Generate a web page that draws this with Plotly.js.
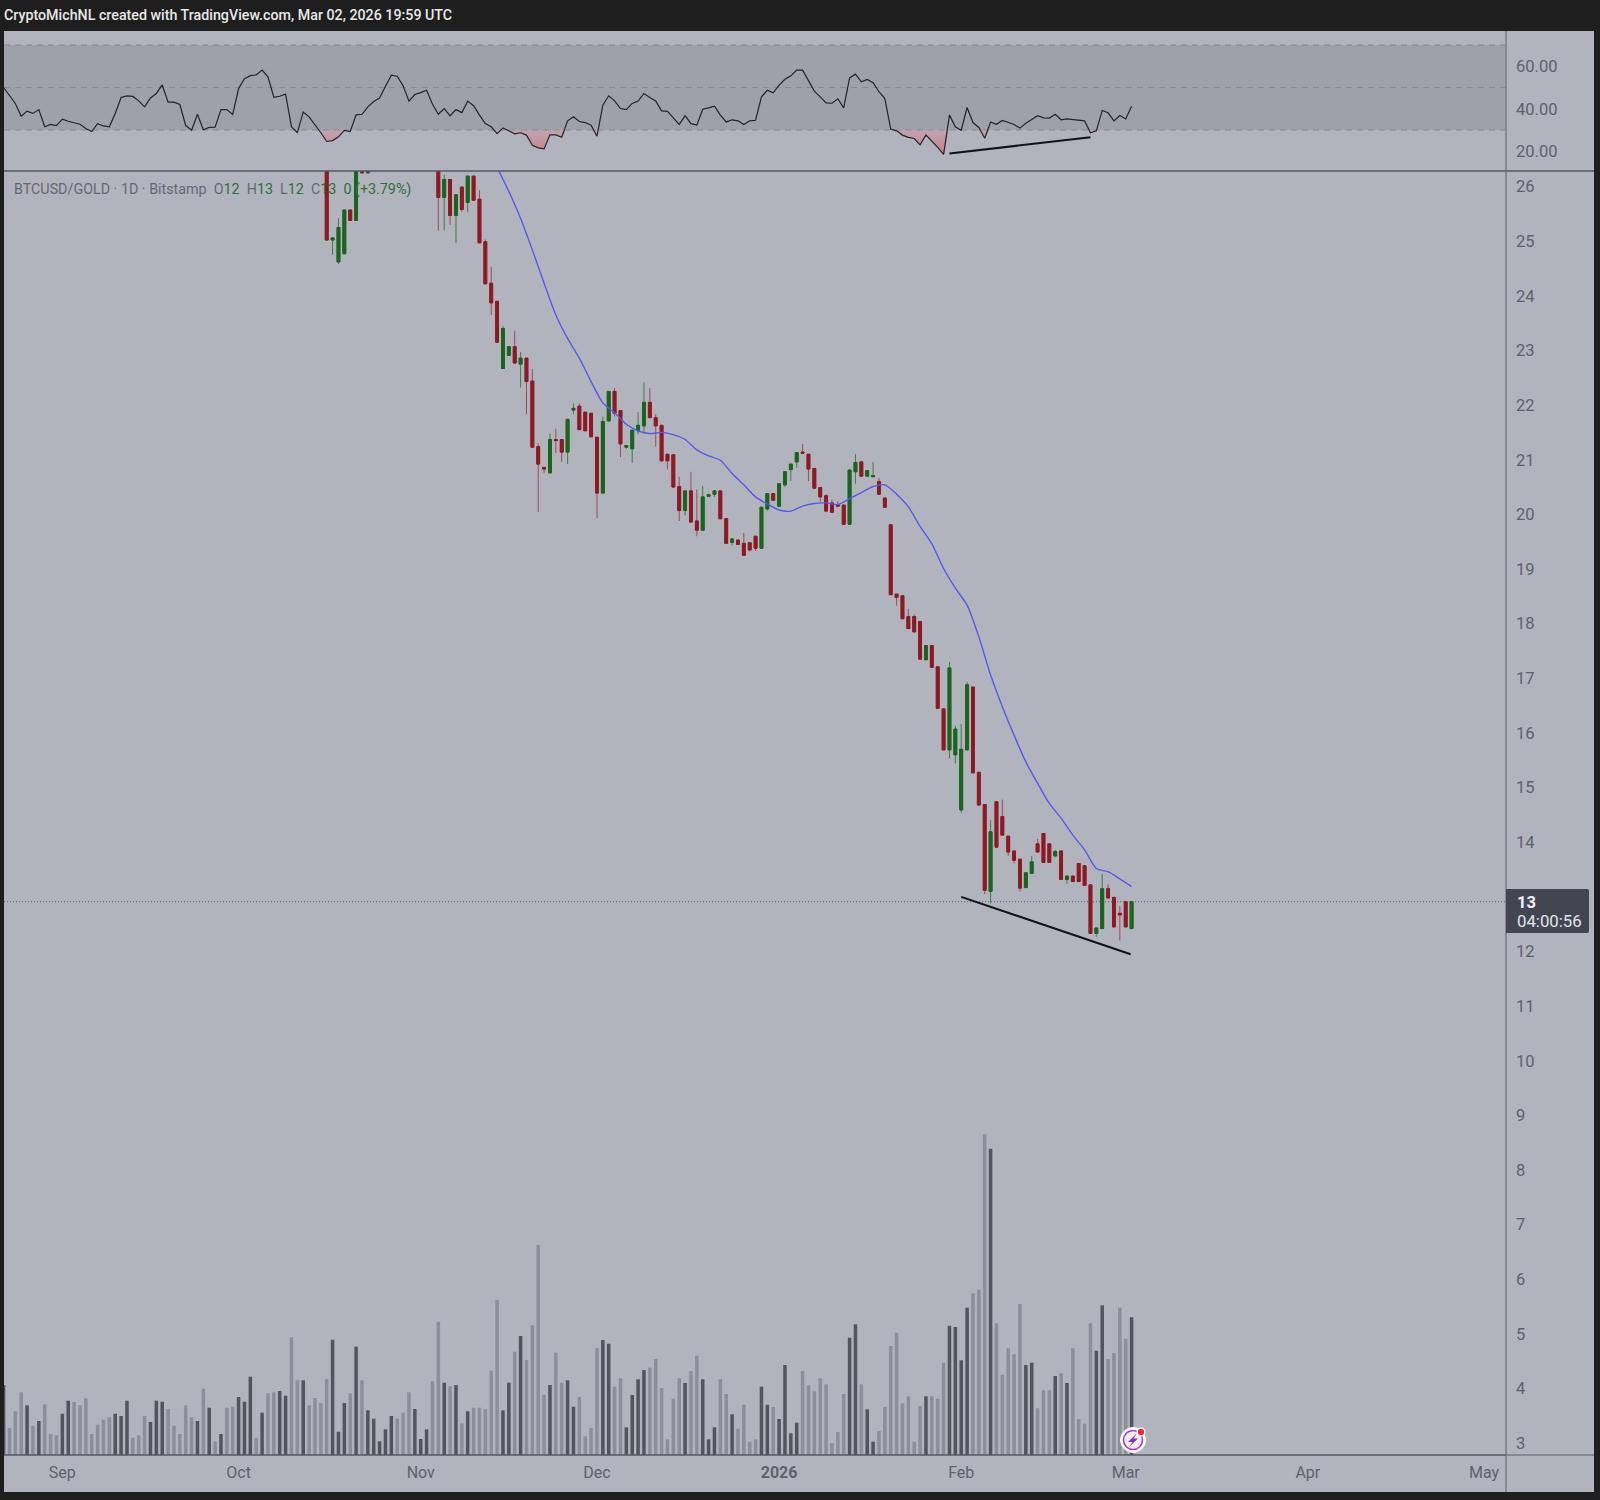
<!DOCTYPE html>
<html><head><meta charset="utf-8">
<script src="https://cdn.plot.ly/plotly-3.0.1.min.js"></script>
<style>html,body{margin:0;padding:0;background:#1e1e1e}#c{width:1600px;height:1500px}</style>
</head><body><div id="c"></div>
<script>
// ---- Data ----
const volumeStart = '2025-08-22';
const volumeValues = [70,27,43.7,62.7,49.7,29.3,34,50.7,21,19.7,41.3,54.3,53,49.7,56.7,21,30.3,35.3,37.7,41.3,39,54.3,17.3,19.7,39,33,54.3,53.3,46,29.3,21,49.7,37.7,34,66.3,47.3,13.7,21,47.3,48.3,58,53.3,78.3,17.3,42.3,61.7,62.7,64,59.3,117.7,74.7,74.7,49.7,57,52,76,115.3,23.3,52,61.7,108.3,74.7,44.7,36.3,13.7,25.7,39,36.3,42.3,62.7,46,16,25.7,73.7,133.3,72.3,68.7,70,31.7,43.7,47.3,47.3,46,84.3,155,44.7,72.3,103.3,119,95,129.7,210,60.3,70,102.3,72.3,74.7,48.3,58,18.7,27,107,
115,111.3,68.3,76.7,27.7,60,75.7,85,87.3,96,67,15.7,56.3,76.7,72,84,99.3,75.7,15.7,27.7,75.7,61,40.7,26.3,50.3,13.3,15.7,68.3,50.3,48,36,90,21.7,32.3,84,69.7,63.7,76.7,70.7,12,23,61,117.3,130.7,70.7,45.7,13.3,24,48,109,122.3,51.7,58.7,13.3,49,58.7,58.7,56.3,92.3,129.3,128,94.7,147.3,161.7,165.3,320.7,306.3,131.7,80.3,106.7,100.7,151,90,92.3,46.7,64.7,64.7,79,81.7,72,106.7,36,31.3,131.7,104.3,149.7,96,102,147.3,116.3,137.7];
const volumeDark = [1,0,0,0,1,0,1,0,0,0,1,1,0,0,0,0,0,0,0,1,1,1,0,0,0,1,1,1,0,0,0,0,0,1,0,1,0,1,0,0,1,1,1,0,1,0,0,1,1,0,0,1,0,0,0,0,1,1,1,0,1,0,1,1,1,1,1,0,0,0,1,1,1,0,0,1,0,1,0,1,0,0,0,0,0,1,1,0,1,0,0,0,0,1,0,0,1,1,0,0,0,0,
1,1,0,0,1,1,1,1,0,0,0,0,0,0,1,0,0,1,1,1,0,0,1,0,0,0,0,1,1,0,1,1,1,1,0,0,0,0,0,0,0,0,1,1,0,1,1,0,0,0,0,0,0,0,0,1,0,0,0,1,1,1,1,0,0,0,1,0,0,0,0,0,1,1,0,0,0,1,0,1,0,0,0,0,1,1,0,0,0,0,1];

const candleStart = '2025-10-16';
const N = null;
const candleOpen = [26.95,25.02,24.62,24.77,25.57,25.38,26.80,26.25,N,N,N,N,N,N,N,N,N,N,N,
26.60,25.80,26.13,25.47,25.99,25.71,26.19,25.77,24.99,24.23,23.90,22.67,22.91,23.07,22.75,22.86,22.44,21.24,20.86,20.76,21.37,21.37,21.14,21.91,21.98,21.87,21.85,21.41,20.39,21.71,22.25,21.90,21.23,21.20,21.53,21.62,22.05,21.77,21.63,21.10,21.09,20.51,20.07,20.43,19.88,19.71,20.33,20.37,20.43,19.92,19.49,19.53,19.47,19.48,19.60,19.38,20.10,20.38,20.15,20.54,20.82,20.96,21.14,21.10,20.84,20.49,20.34,20.21,20.18,20.17,19.82,20.78,20.96,20.70,20.69,20.60,20.30,19.81,18.54,18.51,18.13,18.13,18.04,17.34,17.60,17.21,16.44,15.69,15.60,14.59,15.69,16.84,15.28,14.69,13.10,14.74,14.47,14.11,13.84,13.69,13.17,13.43,13.97,14.16,13.97,13.75,13.84,13.32,13.38,13.61,13.57,13.22,12.33,12.42,13.15,12.99,12.70,12.91,12.42];
const candleHigh = [27.00,25.06,25.42,25.57,25.57,26.90,26.90,26.65,N,N,N,N,N,N,N,N,N,N,N,
26.70,26.22,26.13,25.85,25.99,26.19,26.19,25.93,25.03,24.53,23.90,23.45,23.07,23.36,22.97,22.86,22.66,21.30,20.86,21.48,21.57,21.37,21.74,22.03,22.03,21.87,21.85,21.41,21.79,22.25,22.31,21.90,21.26,21.54,21.87,22.42,22.31,21.83,21.63,21.10,21.09,20.69,20.43,20.78,20.46,20.52,20.38,20.43,20.43,19.92,19.55,19.53,19.66,19.48,19.60,20.13,20.38,20.38,20.56,20.78,20.92,21.13,21.29,21.10,20.84,20.49,20.37,20.27,20.24,20.17,20.83,21.10,20.98,20.80,20.96,20.67,20.30,19.81,18.54,18.51,18.27,18.17,18.04,17.60,17.60,17.21,16.44,17.30,16.13,16.16,16.93,16.84,15.28,14.69,14.41,14.74,14.78,14.11,13.84,13.69,13.44,13.75,14.06,14.16,13.97,13.86,13.84,13.38,13.38,13.61,13.57,13.22,12.43,13.42,13.23,12.99,12.83,12.91,12.91];
const candleLow = [25.02,24.75,24.58,24.77,25.38,25.38,26.25,26.25,N,N,N,N,N,N,N,N,N,N,N,
25.19,25.20,25.30,24.97,25.54,25.53,25.75,24.97,24.22,23.65,23.15,22.67,22.91,22.77,22.32,21.83,21.23,20.04,20.76,20.76,21.12,20.96,20.92,21.83,21.55,21.53,21.42,19.93,20.39,21.71,21.79,21.05,21.20,20.94,21.47,21.48,21.77,21.24,20.98,20.82,20.50,19.88,19.98,19.85,19.60,19.71,20.33,20.32,19.92,19.47,19.43,19.45,19.25,19.32,19.33,19.38,20.07,20.26,20.15,20.50,20.61,20.85,21.12,20.61,20.48,20.23,20.06,20.04,20.15,19.82,19.82,20.56,20.70,20.70,20.69,20.37,20.13,18.53,18.33,18.09,17.91,17.85,17.35,17.34,17.20,16.45,15.69,15.53,15.44,14.54,15.69,15.27,14.68,13.05,12.88,13.91,14.13,13.75,13.61,13.10,13.17,13.43,13.82,13.63,13.63,13.72,13.32,13.24,13.28,13.28,13.21,12.33,12.27,12.42,12.98,12.45,12.20,12.45,12.42];
const candleClose = [25.02,25.06,25.25,25.57,25.38,26.80,26.25,26.60,N,N,N,N,N,N,N,N,N,N,N,
25.80,26.13,25.47,25.85,25.58,26.19,25.75,24.97,24.22,23.87,23.15,23.40,23.07,22.77,22.86,22.43,21.23,20.92,20.83,21.37,21.35,21.14,21.74,21.94,21.55,21.53,21.42,20.39,21.70,22.25,21.85,21.29,21.26,21.54,21.63,22.05,21.77,21.62,20.98,20.98,20.50,20.07,20.43,19.86,19.71,20.32,20.36,20.43,19.92,19.47,19.55,19.45,19.25,19.35,19.38,20.13,20.38,20.26,20.56,20.78,20.92,21.13,21.12,20.83,20.48,20.32,20.06,20.04,20.15,19.82,20.81,20.95,20.70,20.80,20.71,20.37,20.13,18.53,18.48,18.09,17.91,17.85,17.35,17.60,17.20,16.45,15.69,17.19,16.07,15.70,16.88,15.27,14.68,13.12,14.19,13.91,14.13,13.82,13.67,13.16,13.44,13.64,13.82,13.63,13.63,13.83,13.32,13.38,13.28,13.28,13.21,12.33,12.43,13.15,12.98,12.45,12.67,12.45,12.91];

// moving average, read every second day from index 29 of the candle series
const maFirstIndex = 29;
const maValues = [26.35,25.91,25.42,24.84,24.23,23.65,23.22,22.86,22.43,22.04,21.86,21.65,21.53,21.48,21.50,21.46,21.37,21.18,21.07,20.99,20.75,20.54,20.32,20.19,20.08,20.06,20.15,20.20,20.21,20.18,20.29,20.40,20.51,20.54,20.37,20.14,19.78,19.46,19.01,18.65,18.34,17.76,17.06,16.48,15.96,15.47,15.08,14.71,14.44,14.13,13.86,13.52,13.46,13.33,13.19];

const rsiStart = '2025-08-22';
const rsiValues = [50.0,46.4,42.5,36.5,38.9,37.8,39.6,31.5,32.6,32.1,35.1,34.1,33.5,32.7,30.7,29.3,33.0,31.9,31.5,37.8,45.3,46.1,45.8,43.7,40.9,45.1,47.2,51.2,43.1,43.1,42.0,32.1,29.9,37.4,30.1,31.2,31.3,39.6,39.6,37.3,49.5,54.2,55.6,55.9,58.2,55.0,45.4,45.9,46.9,31.5,28.8,38.5,36.2,32.7,28.7,24.6,25.0,26.8,29.8,29.3,37.1,37.4,40.9,43.4,45.0,50.6,55.8,55.3,50.8,43.6,46.7,47.6,48.7,42.1,37.4,40.1,36.7,39.6,38.2,43.6,41.4,37.0,33.0,31.5,28.3,31.0,29.4,28.2,28.7,27.6,22.8,21.6,21.1,27.7,27.7,26.6,34.3,36.2,34.0,33.5,32.3,27.1,
41.7,46.1,43.7,40.1,39.6,42.5,43.6,47.2,45.3,43.7,39.0,38.8,35.7,32.6,36.8,33.0,32.3,39.8,40.4,41.2,37.0,33.8,34.8,34.3,32.6,34.3,34.6,45.6,48.7,47.5,51.1,53.9,55.5,58.2,58.2,53.4,48.3,45.6,42.8,42.6,44.7,40.4,54.5,56.3,52.7,53.8,52.3,48.0,44.8,30.4,29.6,27.6,26.5,26.0,23.0,27.6,24.9,21.8,18.5,37.0,31.5,29.9,40.6,33.5,31.2,26.1,33.8,32.7,34.5,33.4,32.6,30.9,33.2,34.9,36.7,35.7,35.6,37.4,34.8,35.2,34.8,34.5,34.3,28.7,29.6,39.2,38.1,34.3,36.8,35.2,41.2];

const priceTrendDates = ['2026-02-01','2026-03-01 20:00'];
const priceTrendValues = [13.00,11.95];
const rsiTrendDates = ['2026-01-30','2026-02-23'];
const rsiTrendValues = [18.9,26.6];

const priceTicks = [26,25,24,23,22,21,20,19,18,17,16,15,14,12,11,10,9,8,7,6,5,4,3];
const rsiTicks = [60,40,20];
const rsiTickLabels = ['60.00','40.00','20.00'];
const monthTicks = ['2025-09-01','2025-10-01','2025-11-01','2025-12-01','2026-01-01','2026-02-01','2026-03-01','2026-04-01','2026-05-01'];
const monthLabels = ['Sep','Oct','Nov','Dec','<b>2026</b>','Feb','Mar','Apr','May'];

// ---- Helpers ----
function addDays(s,i){const d=new Date(s+'T00:00:00Z');d.setUTCDate(d.getUTCDate()+i);return d.toISOString().slice(0,10);}
const PL=4,PR=1506,PT=31,PB=1455,SEP=171;
const px=x=>(x-PL)/(PR-PL), py=y=>(PB-y)/(PB-PT);
const PANEL='#b1b4bd',RED='#8c1a24',GREEN='#1b641f',REDW='#9c4e59',GREENW='#427c49',GREY='#5e616c';
const FONT='Roboto, sans-serif';

const idx=candleOpen.map((v,i)=>i).filter(i=>candleOpen[i]!==null);
const cx=idx.map(i=>addDays(candleStart,i));
const co=idx.map(i=>candleOpen[i]),ch=idx.map(i=>candleHigh[i]),cl=idx.map(i=>candleLow[i]),cc=idx.map(i=>candleClose[i]);
const DAY=86400000;
const volX=volumeValues.map((_,i)=>addDays(volumeStart,i));
const rsiX=rsiValues.map((_,i)=>addDays(rsiStart,i));
const maX=maValues.map((_,i)=>addDays(candleStart,maFirstIndex+i*2));

const traces=[
 {type:'bar',x:volX,y:volumeValues,xaxis:'x',yaxis:'y3',width:0.6*DAY,
  marker:{color:volumeDark.map(d=>d?'#53555e':'#8c8e99'),line:{width:0}},hoverinfo:'skip',showlegend:false},
 {type:'candlestick',x:cx,open:co,high:ch,low:cl,close:cc,xaxis:'x',yaxis:'y',width:0.46*DAY,whiskerwidth:0,
  increasing:{line:{color:GREENW,width:1},fillcolor:GREEN},decreasing:{line:{color:REDW,width:1},fillcolor:RED},hoverinfo:'skip',showlegend:false},
 {type:'candlestick',x:cx,open:co,close:cc,high:co.map((o,i)=>Math.max(o,cc[i])),low:co.map((o,i)=>Math.min(o,cc[i])),xaxis:'x',yaxis:'y',width:0.46*DAY,whiskerwidth:0,
  increasing:{line:{color:GREEN,width:1},fillcolor:GREEN},decreasing:{line:{color:RED,width:1},fillcolor:RED},hoverinfo:'skip',showlegend:false},
 {type:'scatter',mode:'lines',x:maX,y:maValues,xaxis:'x',yaxis:'y',line:{color:'#5757f2',width:1.4,shape:'spline',smoothing:0.7},hoverinfo:'skip',showlegend:false},
 {type:'scatter',mode:'lines',x:priceTrendDates,y:priceTrendValues,xaxis:'x',yaxis:'y',line:{color:'#111318',width:2},hoverinfo:'skip',showlegend:false},
 {type:'scatter',mode:'lines',x:rsiX,y:rsiValues.map(()=>30),xaxis:'x',yaxis:'y2',line:{width:0},hoverinfo:'skip',showlegend:false},
 {type:'scatter',mode:'lines',x:rsiX,y:rsiValues.map(v=>Math.min(v,30)),xaxis:'x',yaxis:'y2',line:{width:0},fill:'tonexty',
  fillgradient:{type:'vertical',start:18,stop:30,colorscale:[[0,'rgba(222,95,110,0.75)'],[1,'rgba(222,120,130,0.25)']]},hoverinfo:'skip',showlegend:false},
 {type:'scatter',mode:'lines',x:rsiX,y:rsiValues,xaxis:'x',yaxis:'y2',line:{color:'#22242a',width:1.2},hoverinfo:'skip',showlegend:false},
 {type:'scatter',mode:'lines',x:rsiTrendDates,y:rsiTrendValues,xaxis:'x',yaxis:'y2',line:{color:'#111318',width:2},hoverinfo:'skip',showlegend:false}
];

const domSplit=(PB-SEP)/(PB-PT);
const rect=(x0,y0,x1,y1,fill,extra)=>Object.assign({type:'rect',xref:'paper',yref:'paper',x0:px(x0),x1:px(x1),y0:py(y0),y1:py(y1),fillcolor:fill,line:{width:0},layer:'below'},extra||{});
const hline=(yv,dash,color)=>({type:'line',xref:'paper',yref:'y2',x0:0,x1:1,y0:yv,y1:yv,line:{color:color||'#878a94',width:1,dash:dash},layer:'below'});
const pline=(x0,y0,x1,y1,c)=>({type:'line',xref:'paper',yref:'paper',x0:px(x0),x1:px(x1),y0:py(y0),y1:py(y1),line:{color:c,width:1.5},layer:'above'});
const circ=(cx,cy,r,fill,lc,lw)=>({type:'circle',xref:'paper',yref:'paper',x0:px(cx-r),x1:px(cx+r),y0:py(cy+r),y1:py(cy-r),fillcolor:fill,line:{color:lc,width:lw},layer:'above'});
const lastClose=candleClose[candleClose.length-1];
const bolt=[[1137,1433],[1128,1442],[1132.5,1442],[1129,1447],[1138,1438.5],[1133.5,1438.5]];
const boltPath='M '+bolt.map(p=>px(p[0])+' '+py(p[1])).join(' L ')+' Z';

const shapes=[
 rect(1506,31,1594,1492,PANEL),
 rect(4,1455,1506,1492,PANEL),
 {type:'rect',xref:'paper',yref:'y2',x0:0,x1:1,y0:30,y1:70,fillcolor:'#9fa1aa',line:{width:0},layer:'below'},
 hline(70,'6px,5px'),hline(50,'6px,5px'),hline(30,'6px,5px'),
 {type:'line',xref:'paper',yref:'y',x0:0,x1:1,y0:lastClose,y1:lastClose,line:{color:GREY,width:1,dash:'1px,2px'},layer:'below'},
 pline(1506,31,1506,1492,'#787b85'),
 pline(4,171,1506,171,'#555862'),
 pline(4,1455,1506,1455,'#555862'),
 pline(1506,171,1594,171,'#555862'),
 pline(1506,1455,1594,1455,'#787b85'),
 {type:'path',xref:'paper',yref:'paper',layer:'above',fillcolor:'#434651',line:{width:0},
  path:`M ${px(1506)} ${py(889)} L ${px(1587)} ${py(889)} Q ${px(1589)} ${py(889)} ${px(1589)} ${py(891)} L ${px(1589)} ${py(931)} Q ${px(1589)} ${py(933)} ${px(1587)} ${py(933)} L ${px(1506)} ${py(933)} Z`},
 circ(1133,1440,12.5,'#ffffff','#ffffff',1),
 circ(1133,1440,9.5,'#f5eef8','#a63dc6',1.6),
 {type:'path',xref:'paper',yref:'paper',layer:'above',path:boltPath,fillcolor:'#8a2fb0',line:{width:0}},
 circ(1141,1432,4.6,'#ffffff','#ffffff',0),
 circ(1141,1432,3.2,'#ee2a3a','#ee2a3a',0)
];

const g='#2f7038';
const ann=(x,y,text,size,color,weight)=>({xref:'paper',yref:'paper',x:px(x),y:py(y),text:text,showarrow:false,xanchor:'left',yanchor:'middle',font:{family:FONT,size:size,color:color,weight:weight||400}});
const span=(c,t)=>`<span style="color:${c}">${t}</span>`;
const annotations=[
 ann(2,15,'CryptoMichNL created with TradingView.com, Mar 02, 2026 19:59 UTC',14.25,'#e8e8e8',500),
 ann(11.5,189,'BTCUSD/GOLD · 1D · Bitstamp&nbsp;&nbsp;O'+span(g,'12')+'&nbsp;&nbsp;H'+span(g,'13')+'&nbsp;&nbsp;L'+span(g,'12')+'&nbsp;&nbsp;C'+span(g,'13')+'&nbsp;&nbsp;'+span(g,'0 (+3.79%)'),14.3,'#666973'),
 ann(1515,902,'<b>13</b>',16.5,'#f0f1f3'),
 ann(1515,921,'04:00:56',16.8,'#e4e5e8')
];

const layout={
 width:1600,height:1500,paper_bgcolor:'#1e1e1e',plot_bgcolor:PANEL,
 margin:{l:PL,r:1600-PR,t:PT,b:1500-PB,pad:0},showlegend:false,dragmode:false,barmode:'overlay',boxmode:'overlay',
 xaxis:{type:'date',range:['2025-08-22 01:40','2026-05-04 17:31'],anchor:'y',showgrid:false,zeroline:false,showline:false,
  rangeslider:{visible:false},tickmode:'array',tickvals:monthTicks,ticktext:monthLabels,ticks:'',ticklabelstandoff:6,tickfont:{family:FONT,size:16,color:GREY}},
 yaxis:{domain:[0,domSplit],range:[12+(951.5-1455)/54.64,12+(951.5-171)/54.64],side:'right',anchor:'x',showgrid:false,zeroline:false,showline:false,
  tickmode:'array',tickvals:priceTicks,ticktext:priceTicks.map(String),ticks:'',ticklabelstandoff:9,tickfont:{family:FONT,size:16.5,color:GREY}},
 yaxis2:{domain:[domSplit,1],range:[10.7,76.6],side:'right',anchor:'x',showgrid:false,zeroline:false,showline:false,
  tickmode:'array',tickvals:rsiTicks,ticktext:rsiTickLabels,ticks:'',ticklabelstandoff:9,tickfont:{family:FONT,size:16.5,color:GREY}},
 yaxis3:{overlaying:'y',range:[0,PB-SEP],side:'right',anchor:'x',visible:false,showgrid:false,zeroline:false},
 shapes:shapes,annotations:annotations
};
Plotly.newPlot('c',traces,layout,{displayModeBar:false,staticPlot:true});
</script></body></html>
